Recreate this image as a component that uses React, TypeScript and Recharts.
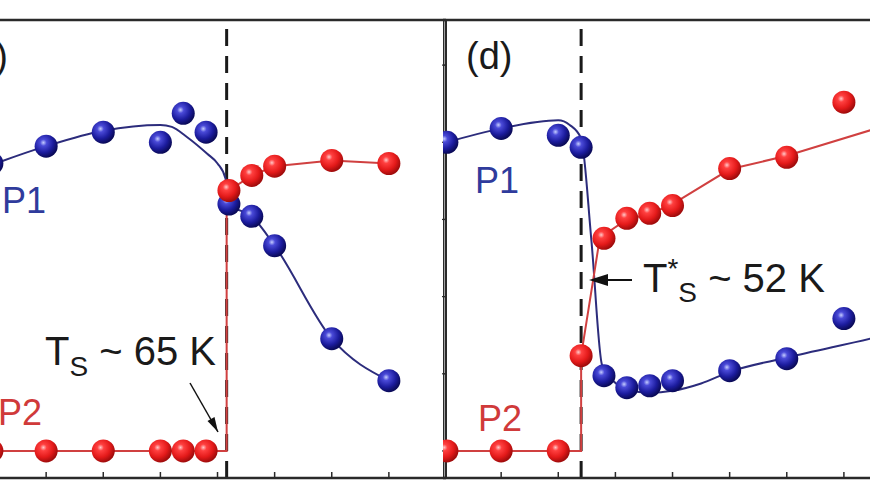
import React from "react";
import {
  ComposedChart,
  Line,
  Scatter,
  XAxis,
  YAxis,
  ReferenceLine,
} from "recharts";

// panel (c), partially cut on the left
const cTemps = [20.5, 30, 40, 50, 54, 58, 62, 66, 70, 80, 90];
const cP1 = [0.745, 0.79, 0.826, 0.8, 0.875, 0.826, 0.64, 0.608, 0.532, 0.291, 0.182];
const cP2 = [0, 0, 0, 0, 0, 0, 0.675, 0.714, 0.738, 0.753, 0.745];
const cFitP1T = [18, 30, 40, 50, 52, 54.7, 58.2, 60, 61.4, 62, 66, 70, 80, 90];
const cFitP1V = [0.728, 0.79, 0.83, 0.845, 0.84, 0.813, 0.77, 0.745, 0.706, 0.64, 0.608, 0.532, 0.291, 0.182];
const cFitP2T = [18, 61.6, 61.6, 62, 66, 70, 80, 90];
const cFitP2V = [0, 0, 0.675, 0.675, 0.714, 0.738, 0.753, 0.745];
const cTicks = [30, 40, 50, 60, 70, 80, 90];
const cTs = 61.6;

// panel (d)
const dTemps = [10.5, 20, 30, 34, 38, 42, 46, 50, 60, 70, 80];
const dP1 = [0.8, 0.836, 0.818, 0.787, 0.195, 0.164, 0.169, 0.182, 0.208, 0.239, 0.343];
const dP2 = [0, 0, 0, 0.247, 0.551, 0.603, 0.616, 0.636, 0.732, 0.761, 0.904];
const dFitP1T = [9.8, 20, 30, 32, 34, 35.8, 37.7, 42, 46, 50, 55, 60, 70, 84.6, 90];
const dFitP1V = [0.797, 0.836, 0.857, 0.845, 0.81, 0.545, 0.221, 0.16, 0.151, 0.156, 0.175, 0.205, 0.242, 0.291, 0.31];
const dFitP2T = [9.8, 34, 34, 37.2, 38, 42, 46, 50, 60, 70, 84.6, 90];
const dFitP2V = [0, 0, 0.247, 0.545, 0.56, 0.6, 0.614, 0.64, 0.73, 0.765, 0.831, 0.855];
const dTicks = [20, 30, 40, 50, 60, 70, 80];
const dTs = 34;

const yTicks = [0, 0.2, 0.4, 0.6, 0.8, 1.0];
const Y_DOMAIN: [number, number] = [-0.0701, 1.1169];

const BLUE_LINE = "#2c2c7c";
const RED_LINE = "#d04040";
const FRAME = "#2a2a2a";
const FONT = "'Liberation Sans', Arial, sans-serif";

const zip = (ts: number[], vs: number[]) => ts.map((t, i) => ({ t, v: vs[i] }));

const ball = (id: string) => (p: any) =>
  <circle cx={p.cx} cy={p.cy} r={11.5} fill={`url(#${id})`} />;

const noLabel = () => <g />;

function Panel(props: {
  width: number;
  left: number;
  domain: [number, number];
  ticks: number[];
  ts: number;
  temps: number[];
  p1: number[];
  p2: number[];
  fit1: { t: number; v: number }[];
  fit2: { t: number; v: number }[];
  side: "left" | "right";
  margin: { top: number; right: number; bottom: number; left: number };
}) {
  return (
    <div style={{ position: "absolute", left: props.left, top: 0 }}>
      <ComposedChart width={props.width} height={492} margin={props.margin}>
        <XAxis
          type="number"
          dataKey="t"
          domain={props.domain}
          allowDataOverflow
          ticks={props.ticks}
          tick={noLabel}
          mirror
          height={1}
          tickSize={6}
          axisLine={{ stroke: FRAME, strokeWidth: 2.5 }}
          tickLine={{ stroke: FRAME, strokeWidth: 1.5 }}
        />
        <YAxis
          type="number"
          dataKey="v"
          domain={Y_DOMAIN}
          allowDataOverflow
          orientation={props.side}
          ticks={yTicks}
          tick={noLabel}
          mirror
          width={1}
          tickSize={4}
          axisLine={{ stroke: FRAME, strokeWidth: 2.5 }}
          tickLine={{ stroke: FRAME, strokeWidth: 1.2 }}
        />
        <ReferenceLine y={Y_DOMAIN[1]} stroke={FRAME} strokeWidth={2.5} />
        <ReferenceLine
          x={props.ts}
          stroke="#1a1a1a"
          strokeWidth={3}
          strokeDasharray="17 10"
        />
        <Line
          data={props.fit1}
          dataKey="v"
          type="monotone"
          stroke={BLUE_LINE}
          strokeWidth={2}
          dot={false}
          isAnimationActive={false}
        />
        <Line
          data={props.fit2}
          dataKey="v"
          type="linear"
          stroke={RED_LINE}
          strokeWidth={2}
          dot={false}
          isAnimationActive={false}
        />
        <Scatter
          data={zip(props.temps, props.p1)}
          shape={ball("ballBlue")}
          isAnimationActive={false}
        />
        <Scatter
          data={zip(props.temps, props.p2)}
          shape={ball("ballRed")}
          isAnimationActive={false}
        />
      </ComposedChart>
    </div>
  );
}

export default function App() {
  return (
    <div
      style={{
        position: "absolute",
        left: 0,
        top: 0,
        width: 870,
        height: 492,
        overflow: "hidden",
        background: "#fff",
      }}
    >
      <svg width={0} height={0} style={{ position: "absolute" }}>
        <defs>
          <radialGradient id="ballBlue" cx="38%" cy="35%" r="65%">
            <stop offset="0%" stopColor="#c4ccff" />
            <stop offset="22%" stopColor="#4a4ad8" />
            <stop offset="65%" stopColor="#1c1c9e" />
            <stop offset="100%" stopColor="#0a0a58" />
          </radialGradient>
          <radialGradient id="ballRed" cx="38%" cy="35%" r="65%">
            <stop offset="0%" stopColor="#ffc8c8" />
            <stop offset="22%" stopColor="#ff4040" />
            <stop offset="65%" stopColor="#e41a1a" />
            <stop offset="100%" stopColor="#a00c0c" />
          </radialGradient>
        </defs>
      </svg>

      {/* plot areas run past the page edges so that only the visible part remains */}
      <Panel
        width={467}
        left={-20}
        domain={[18.42, 100]}
        ticks={cTicks}
        ts={cTs}
        temps={cTemps}
        p1={cP1}
        p2={cP2}
        fit1={zip(cFitP1T, cFitP1V)}
        fit2={zip(cFitP2T, cFitP2V)}
        side="right"
        margin={{ top: 20, right: 1, bottom: 14, left: 0 }}
      />
      <Panel
        width={447}
        left={443}
        domain={[9.82, 88.07]}
        ticks={dTicks}
        ts={dTs}
        temps={dTemps}
        p1={dP1}
        p2={dP2}
        fit1={zip(dFitP1T, dFitP1V)}
        fit2={zip(dFitP2T, dFitP2V)}
        side="left"
        margin={{ top: 20, right: 0, bottom: 14, left: 0 }}
      />

      {/* annotations */}
      <svg
        width={870}
        height={492}
        style={{ position: "absolute", left: 0, top: 0, pointerEvents: "none" }}
        fontFamily={FONT}
      >
        <text x={8} y={69} fontSize={38} textAnchor="end" fill="#1a1a1a">(c)</text>
        <text x={466} y={69} fontSize={38} fill="#1a1a1a">(d)</text>

        <text x={2} y={213} fontSize={36} fill="#2f3b9c">P1</text>
        <text x={-2} y={425} fontSize={36} fill="#d03a3a">P2</text>
        <text x={475} y={193} fontSize={36} fill="#2f3b9c">P1</text>
        <text x={478} y={431} fontSize={36} fill="#d03a3a">P2</text>

        <text x={45} y={365} fontSize={40} fill="#1a1a1a">
          T<tspan fontSize={28} dy={11}>S</tspan>
          <tspan dy={-11}>{" ~ 65 K"}</tspan>
        </text>
        <text x={643} y={292} fontSize={40} fill="#1a1a1a">
          T<tspan fontSize={28} dy={-14}>*</tspan>
          <tspan fontSize={28} dy={24}>S</tspan>
          <tspan dy={-10}>{" ~ 52 K"}</tspan>
        </text>

        <line x1={190} y1={383} x2={218} y2={432} stroke="#111" strokeWidth={1.5} />
        <path d="M218,432 L207.5,421 L214.5,417 z" fill="#111" />
        <line x1={632} y1={280} x2={592} y2={280} stroke="#111" strokeWidth={2} />
        <path d="M589,280 L608,274 L608,286 z" fill="#111" />
      </svg>
    </div>
  );
}
